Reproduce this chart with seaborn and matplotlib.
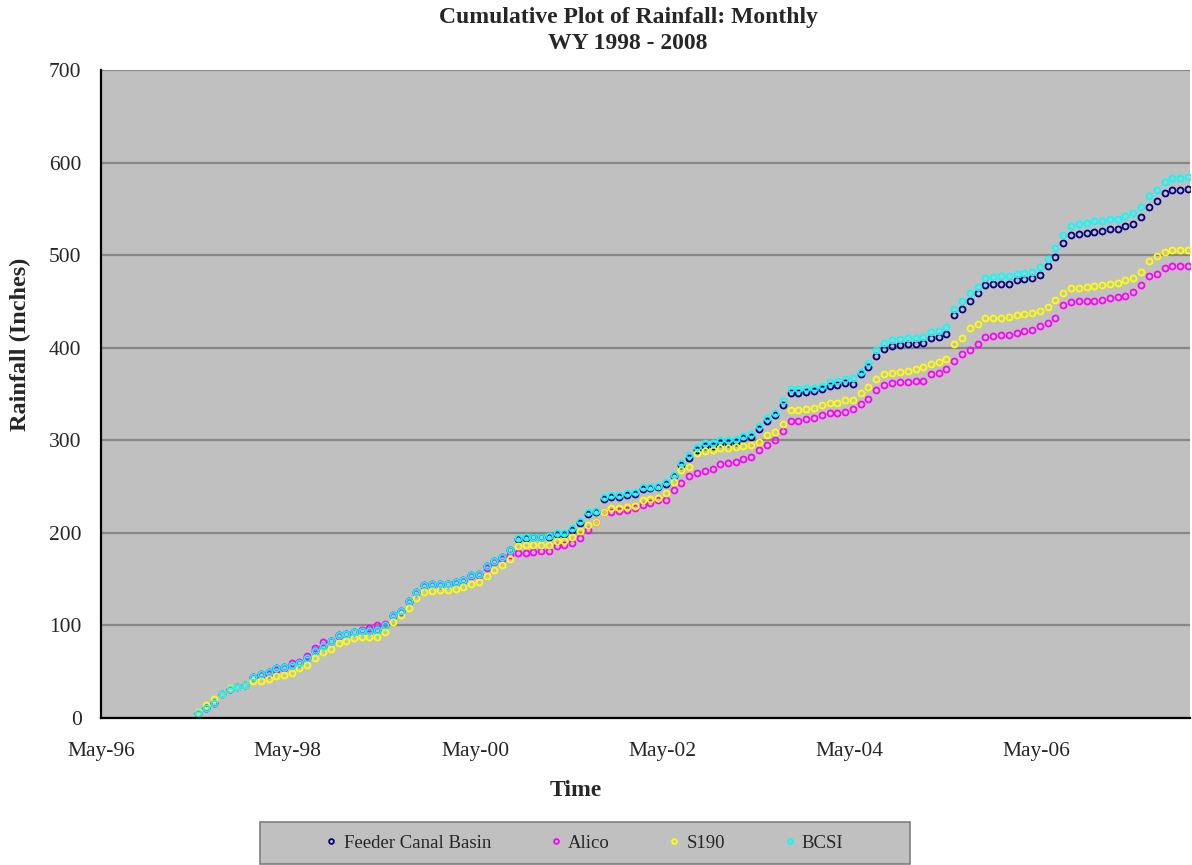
import numpy as np
import pandas as pd
import matplotlib
matplotlib.use("Agg")
import matplotlib.pyplot as plt
import matplotlib.dates as mdates
from matplotlib.patches import Rectangle
import seaborn as sns

# monthly cumulative rainfall (inches)
dates = pd.date_range("1997-05-01", periods=128, freq="MS") + pd.Timedelta(days=14)

feeder = [5, 11, 16, 26, 31, 33, 36, 44, 47, 50, 54, 55, 57, 59, 65, 72, 78, 83, 90, 91,
          93, 94, 94, 95, 100, 111, 116, 126, 136, 144, 145, 145, 145, 147, 149, 154, 156, 164, 170, 174,
          181, 193, 194, 195, 195, 196, 199, 199, 203, 211, 220, 222, 237, 239, 239, 241, 242, 247, 248, 249,
          253, 261, 273, 281, 290, 294, 294, 297, 297, 298, 302, 304, 312, 321, 327, 338, 351, 351, 352, 353,
          355, 359, 360, 362, 361, 372, 379, 391, 399, 402, 403, 404, 404, 405, 411, 412, 415, 435, 442, 451,
          459, 468, 469, 469, 469, 473, 474, 475, 479, 488, 498, 513, 522, 523, 524, 525, 526, 528, 528, 531,
          534, 541, 552, 559, 567, 570, 570, 571]

alico = [5, 11, 16, 26, 31, 33, 36, 44, 46, 48, 52, 54, 59, 60, 67, 76, 82, 83, 89, 91,
         93, 95, 97, 100, 102, 110, 115, 125, 135, 143, 144, 144, 145, 146, 148, 153, 155, 162, 168, 172,
         176, 178, 178, 179, 180, 180, 186, 187, 189, 194, 203, 212, 223, 223, 224, 225, 227, 230, 232, 235,
         236, 246, 254, 261, 265, 267, 269, 274, 276, 277, 280, 282, 289, 295, 300, 310, 321, 321, 323, 324,
         327, 329, 330, 331, 334, 339, 345, 354, 360, 362, 363, 363, 364, 364, 372, 373, 377, 386, 393, 398,
         404, 412, 413, 414, 414, 416, 418, 419, 423, 427, 432, 446, 449, 450, 450, 451, 452, 454, 455, 456,
         460, 468, 477, 480, 486, 488, 488, 488]

s190 = [7, 14, 21, 26, 32, 33, 36, 40, 40, 42, 45, 46, 49, 54, 57, 65, 71, 75, 81, 83,
        86, 87, 87, 88, 93, 104, 111, 119, 130, 136, 137, 138, 138, 139, 141, 145, 147, 153, 160, 165,
        172, 186, 187, 187, 187, 187, 191, 191, 196, 202, 209, 212, 223, 227, 227, 228, 229, 235, 237, 238,
        243, 255, 268, 271, 286, 288, 289, 292, 292, 293, 294, 295, 298, 306, 309, 318, 333, 333, 334, 335,
        338, 340, 340, 343, 343, 351, 358, 366, 372, 373, 374, 375, 377, 379, 382, 385, 388, 404, 411, 421,
        426, 432, 432, 432, 433, 435, 436, 437, 440, 444, 452, 459, 464, 464, 466, 467, 468, 469, 470, 473,
        475, 482, 494, 499, 503, 506, 506, 506]

bcsi = [5, 11, 16, 26, 31, 33, 36, 44, 47, 50, 54, 55, 57, 59, 65, 72, 78, 83, 90, 91,
        93, 94, 94, 95, 100, 111, 116, 126, 136, 144, 145, 145, 145, 147, 149, 154, 156, 164, 170, 174,
        181, 194, 195, 196, 196, 197, 200, 200, 205, 213, 222, 224, 239, 241, 241, 243, 244, 249, 250, 251,
        255, 263, 275, 284, 293, 297, 297, 300, 300, 301, 305, 307, 315, 324, 330, 342, 355, 355, 356, 357,
        359, 363, 364, 366, 367, 374, 383, 397, 405, 408, 409, 410, 411, 412, 417, 418, 422, 442, 450, 459,
        466, 475, 476, 477, 477, 480, 481, 482, 487, 496, 508, 522, 532, 534, 535, 537, 537, 539, 539, 542,
        545, 552, 564, 570, 579, 583, 583, 584]

names = ["Feeder Canal Basin", "Alico", "S190", "BCSI"]
colors = ["#000080", "#FF00FF", "#FFFF00", "#00FFFF"]
series = [feeder, alico, s190, bcsi]

sns.set_style("white")
plt.rcParams["font.family"] = ["Liberation Serif", "DejaVu Serif"]

fig = plt.figure(figsize=(11.92, 8.65), dpi=100)
ax = fig.add_axes([101 / 1192, 1 - 718 / 865, 1089 / 1192, 648 / 865])
ax.set_facecolor("#C0C0C0")

for name, col, vals in zip(names, colors, series):
    df = pd.DataFrame({"Time": dates, "Rainfall": vals})
    sns.lineplot(data=df, x="Time", y="Rainfall", ax=ax, estimator=None,
                 linestyle="", marker="o", markersize=4.3, markeredgewidth=1.3,
                 markerfacecolor="none", markeredgecolor=col, color=col, label=name)

ax.set_ylim(0, 700)
ax.set_yticks(np.arange(0, 701, 100))
ax.yaxis.grid(True, color="#878787", linewidth=1.6)
ax.xaxis.grid(False)
ax.set_axisbelow(True)

x0 = mdates.date2num(pd.Timestamp("1996-05-01"))
x1 = mdates.date2num(pd.Timestamp("2007-12-23"))
ax.set_xlim(x0, x1)
ax.xaxis.set_major_locator(mdates.YearLocator(2, month=5, day=1))
ax.xaxis.set_major_formatter(mdates.DateFormatter("%b-%y"))
ax.xaxis.set_minor_locator(matplotlib.ticker.FixedLocator(np.arange(x0, x1, 146.1)))

for s in ["top", "right"]:
    ax.spines[s].set_visible(False)
for s in ["left", "bottom"]:
    ax.spines[s].set_color("black")
    ax.spines[s].set_linewidth(1.6)

ax.tick_params(axis="both", which="both", direction="out", length=6, width=1,
               color="black", labelsize=15.5, pad=8)
ax.tick_params(axis="x", which="minor", labelbottom=False)
ax.tick_params(axis="x", which="major", pad=11)

ax.set_xlabel("Time", fontsize=17, fontweight="bold")
ax.xaxis.set_label_coords(0.436, -0.095)
ax.set_ylabel("Rainfall (Inches)", fontsize=17.5, fontweight="bold")
ax.yaxis.set_label_coords(-0.064, 0.577)
fig.text(0.527, 0.992, "Cumulative Plot of Rainfall: Monthly\nWY 1998 - 2008", fontsize=17,
         fontweight="bold", ha="center", va="top", linespacing=1.3)

# legend box
fig.patches.append(Rectangle((260 / 1192, 1 - 864 / 865), 650 / 1192, 42 / 865,
                             transform=fig.transFigure, facecolor="#C0C0C0",
                             edgecolor="#7F7F7F", linewidth=1.2, zorder=-1))
ax.legend(loc="center", bbox_to_anchor=(585 / 1192, 1 - 843 / 865),
          bbox_transform=fig.transFigure, ncol=4, frameon=False, fontsize=13.5,
          handlelength=0.5, handletextpad=0.4, columnspacing=3.2, markerscale=0.8)

fig.savefig("out.png", dpi=100)
